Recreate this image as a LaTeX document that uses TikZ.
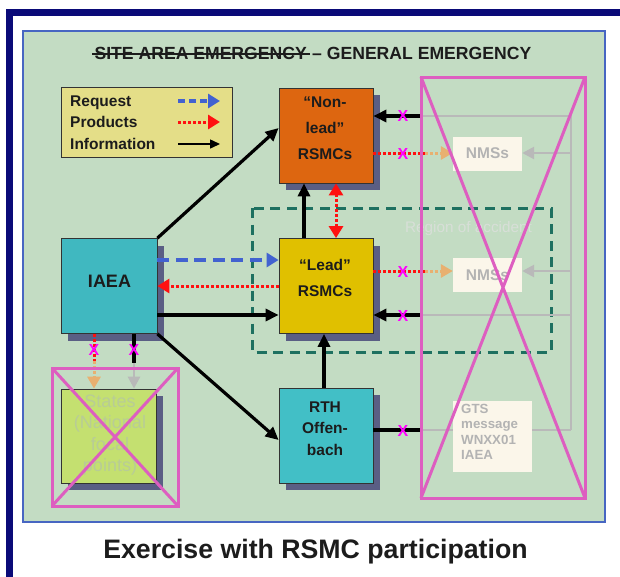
\documentclass[tikz,border=0pt]{standalone}
\usepackage{fontspec}
\setmainfont{Liberation Sans}
\usetikzlibrary{arrows.meta,shadows}
\definecolor{navy}{HTML}{0A0A78}
\definecolor{panelg}{HTML}{C3DCC3}
\definecolor{panelb}{HTML}{4766C2}
\definecolor{legy}{HTML}{E4DE88}
\definecolor{orng}{HTML}{DD6610}
\definecolor{gold}{HTML}{E0C000}
\definecolor{teal1}{HTML}{40B8C0}
\definecolor{teal2}{HTML}{42BFC6}
\definecolor{shad}{HTML}{5A5E84}
\definecolor{lgreen}{HTML}{C4E070}
\definecolor{pinkx}{HTML}{DD5EC0}
\definecolor{magx}{HTML}{FF00FF}
\definecolor{greyl}{HTML}{B9B9B9}
\definecolor{tanc}{HTML}{E8B070}
\definecolor{cream}{HTML}{FBF6EA}
\definecolor{fadet}{HTML}{B3B3B3}
\definecolor{regc}{HTML}{1E7060}
\definecolor{blued}{HTML}{4262D0}
\definecolor{redd}{HTML}{FF1010}
\definecolor{regt}{HTML}{D8DFD8}
\definecolor{statet}{HTML}{B8CC96}
\definecolor{txt}{HTML}{1C1C1C}
\begin{document}
\begin{tikzpicture}[x=1pt,y=-1pt,
  box/.style={draw=black!80, line width=0.8pt, minimum width=94pt, minimum height=95pt, inner sep=0pt,
    general shadow={fill=shad, shadow xshift=7pt, shadow yshift=-7pt}},
  lbl/.style={align=center, font=\fontsize{15.5}{18.6}\selectfont\bfseries, inner sep=0pt, text=txt},
  info/.style={draw=black, line width=3.2pt, -{Triangle[length=13pt,width=12pt]}},
  infol/.style={draw=black, line width=3.2pt},
  prod/.style={draw=redd, line width=3pt, dash pattern=on 3pt off 2pt, -{Triangle[length=12pt,width=14pt]}},
  prodl/.style={draw=redd, line width=3pt, dash pattern=on 3pt off 2pt},
  req/.style={draw=blued, line width=3.3pt, dash pattern=on 12pt off 6.5pt, -{Triangle[length=12pt,width=14pt]}},
  tanarr/.style={draw=tanc, line width=3pt, dash pattern=on 3pt off 2pt, -{Triangle[length=12pt,width=13pt]}},
  greyln/.style={draw=greyl, line width=2.7pt},
  greyarr/.style={draw=greyl, line width=2.7pt, -{Triangle[length=12pt,width=12pt]}},
  xmark/.style={text=magx, font=\fontsize{16}{16}\selectfont\bfseries, inner sep=0pt},
  pinkbox/.style={draw=pinkx, line width=3pt},
  nms/.style={fill=cream, draw=none, minimum width=69pt, minimum height=34pt, inner sep=0pt,
    text=fadet, font=\fontsize{15.5}{18}\selectfont\bfseries},
  ttl/.style={font=\fontsize{17.6}{20}\selectfont\bfseries, text=txt, inner sep=0pt}
]
\clip (0,0) rectangle (620,576);
\fill[white] (0,0) rectangle (620,576);
\draw[navy, line width=6.5pt] (9.5,12.5) rectangle (650,600);
\draw[panelb, fill=panelg, line width=2.5pt] (23,31) rectangle (605,522);

% title
\node[ttl, anchor=base east] (titleA) at (307,59) {SITE AREA EMERGENCY};
\node[ttl, anchor=base west] (titleB) at (312,59) {– GENERAL EMERGENCY};
\coordinate (stA) at (92,54); \coordinate (stB) at (310,54);
\draw[txt, line width=1.7pt] (stA) -- (stB);

% legend
\node[draw=black!80, fill=legy, line width=0.8pt, minimum width=171pt, minimum height=70pt, inner sep=0pt] (legend) at (146.5,122) {};
\node[lbl, anchor=base west] (lr) at (70,106) {Request};
\node[lbl, anchor=base west] (lp) at (70,127) {Products};
\node[lbl, anchor=base west] (li) at (70,149) {Information};
\coordinate (la1) at (178,101); \coordinate (lb1) at (220,101);
\coordinate (la2) at (178,122); \coordinate (lb2) at (220,122);
\coordinate (la3) at (178,144); \coordinate (lb3) at (220,144);
\draw[req, dash pattern=on 7pt off 4pt] (la1) -- (lb1);
\draw[prod] (la2) -- (lb2);
\draw[draw=black, line width=1.5pt, -{Triangle[length=10pt,width=9pt]}] (la3) -- (lb3);

% region of accident
\draw[regc, line width=3pt, dash pattern=on 10pt off 6.5pt] (252,208) rectangle (551,352);
\node[text=regt, font=\fontsize{15.3}{17}\selectfont, anchor=base, inner sep=0pt] (reg) at (468.5,232) {Region of accident};

% right side grey bus
\coordinate (bT) at (571,116);
\coordinate (bB) at (571,430);
\coordinate (e1) at (421,116);
\coordinate (e4) at (421,315);
\coordinate (e5) at (423,430);
\draw[greyln] (e1) -- (bT) -- (bB);
\draw[greyln] (e4) -- (bT |- e4);

% main boxes
\node[box, fill=orng] (nonlead) at (326,135.5) {};
\node[box, fill=gold] (lead) at (326,286) {};
\node[box, fill=teal1, minimum width=96pt] (iaea) at (109,286) {};
\node[box, fill=teal2] (rth) at (326,435.5) {};
\node[box, fill=lgreen, minimum width=95pt, minimum height=94pt] (states) at (108.5,436) {};

\node[lbl] (nonleadT) at (325,128) {“Non-\\[7.4pt]lead”\\[7.4pt]RSMCs};
\node[lbl] (leadT) at (325,278) {“Lead”\\[7.4pt]RSMCs};
\node[lbl, font=\fontsize{18}{20}\selectfont\bfseries, anchor=base] (iaeaT) at (109.5,287) {IAEA};
\node[lbl] (rthT) at (325,428.5) {RTH\\[2.9pt]Offen-\\[2.9pt]bach};
\node[align=center, inner sep=0pt, text=statet, font=\fontsize{18}{21.5}\selectfont] (statesT) at (110,435) {States\\(National\\focal\\points)};

% NMS boxes
\node[nms] (nmsA) at (487.5,153.5) {NMSs};
\node[nms] (nmsB) at (487.5,275) {NMSs};
\draw[greyln] (e5) -- (bB);
\node[nms, minimum width=79pt, minimum height=71pt] (gts) at (492.5,436.5) {};
\node[anchor=north west, align=left, inner sep=0pt, text=fadet, font=\fontsize{13.3}{15.3}\selectfont\bfseries] (gtsT) at (461,404) {GTS\\message\\WNXX01\\IAEA};

% connectors
\draw[info] (iaea.north east) -- ([yshift=7.5pt]nonlead.west);
\draw[info] (iaea.south east) -- ([yshift=-4.5pt]rth.west);
\draw[req] ([yshift=26pt]iaea.east) -- ([yshift=26pt]lead.west);
\draw[prod] (lead.west) -- (iaea.east);
\draw[info] ([yshift=-29pt]iaea.east) -- ([yshift=-29pt]lead.west);
\draw[info] ([xshift=-22pt]lead.north) -- ([xshift=-22pt]nonlead.south);
\draw[prod, {Triangle[length=12pt,width=14pt]}-{Triangle[length=12pt,width=14pt]}] ([xshift=10pt]lead.north) -- ([xshift=10pt]nonlead.south);
\draw[info] ([xshift=-2pt]rth.north) -- ([xshift=-2pt]lead.south);

% non-lead right side
\draw[info] (e1) -- ([yshift=19.5pt]nonlead.east);
\coordinate (p1) at (425,153);
\draw[prodl] ([yshift=-17.5pt]nonlead.east) -- (p1);
\draw[tanarr] (p1) -- (nmsA.west |- p1);
\draw[greyarr] (bT |- p1) -- (nmsA.east |- p1);

% lead right side
\coordinate (p2) at (425,271);
\draw[prodl] ([yshift=15pt]lead.east) -- (p2);
\draw[tanarr] (p2) -- (nmsB.west |- p2);
\draw[greyarr] (bT |- p2) -- (nmsB.east |- p2);
\draw[info] (e4) -- ([yshift=-29pt]lead.east);

% RTH right side
\draw[infol] ([yshift=5.5pt]rth.east) -- (e5);

% IAEA to states
\coordinate (s1) at (94,361);
\coordinate (s2) at (134,363);
\draw[prodl] ([xshift=-15pt]iaea.south) -- (s1);
\draw[tanarr] (s1) -- (s1 |- states.north);
\draw[infol] ([xshift=25pt]iaea.south) -- (s2);
\draw[greyarr] (s2) -- (s2 |- states.north);

% magenta X marks
\node[xmark] (x1) at (403,116) {X};
\node[xmark] (x2) at (403,154) {X};
\node[xmark] (x3) at (403,272) {X};
\node[xmark] (x4) at (403,316) {X};
\node[xmark] (x5) at (403,431) {X};
\node[xmark] (x6) at (94,350) {X};
\node[xmark] (x7) at (134,350) {X};

% pink crosses
\draw[pinkbox] (421,77) rectangle (585,498);
\draw[pinkbox] (421,77) -- (585,498) (585,77) -- (421,498);
\draw[pinkbox] (52,368) rectangle (178,506);
\draw[pinkbox] (52,368) -- (178,506) (178,368) -- (52,506);

% caption
\node[font=\fontsize{26.7}{30}\selectfont\bfseries, text=txt, anchor=base, inner sep=0pt] (cap) at (315.5,558) {Exercise with RSMC participation};
\end{tikzpicture}
\end{document}
